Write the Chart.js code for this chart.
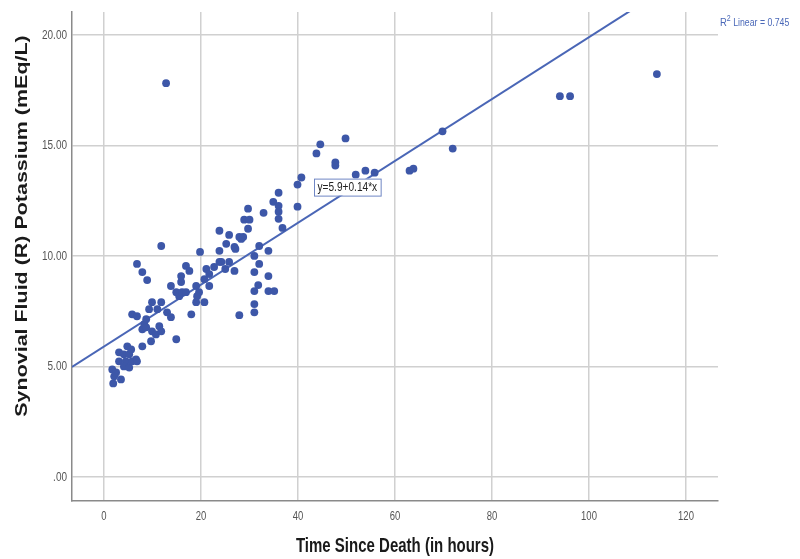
<!DOCTYPE html>
<html>
<head>
<meta charset="utf-8">
<script src="https://cdn.jsdelivr.net/npm/chart.js@4.4.1/dist/chart.umd.min.js"></script>
<style>
  html, body { margin: 0; padding: 0; background: #fff; }
  #wrap { width: 800px; height: 559px; }
</style>
</head>
<body>
<div id="wrap"><canvas id="scatterChart" width="800" height="559"></canvas></div>
<script>
// hours since death
const timeHours = [
  1.9, 3.5, 2.1, 1.7, 2.5, 3.1, 3.1, 4.1, 4.5, 4.1, 4.8, 5.2, 5.2, 5.6, 5.8, 6.6, 6.8,
  5.8, 6.8, 7.9, 8.3, 8.7, 7.9, 6.8, 7.9, 8.9,
  8.7, 9.3, 9.7, 9.9, 9.9, 10.7, 11.0, 11.4, 11.8, 11.8, 11.8, 13.0, 13.8, 13.8, 14.9,
  14.9, 15.5, 15.9, 16.1, 16.9, 18.0, 15.9, 16.9, 17.6, 19.0, 19.6, 19.0, 20.7, 19.2,
  19.8, 20.7,
  21.1, 21.7, 21.7, 22.7, 23.8, 23.8, 23.8, 24.2, 25.0, 25.2, 25.8, 25.8, 26.9, 26.9,
  28.3, 28.9, 30.0, 29.7, 29.7, 27.9, 28.7, 27.1, 27.9, 31.0, 32.0, 31.0, 33.9, 31.0,
  33.9, 31.8, 35.1, 31.0, 31.0, 33.9, 32.0,
  32.9, 34.9, 36.0, 36.0, 36.0, 36.0, 36.8, 39.9, 40.7, 39.9,
  43.8, 44.6, 47.7, 47.7, 49.8, 51.9, 53.9, 55.8, 63.0, 63.8, 69.8, 71.9,
  94.0, 96.1, 114.0, 12.8
];
// synovial potassium, mEq/L
const potassium = [
  4.23, 4.41, 4.55, 4.86, 4.73, 5.23, 5.64, 5.55, 5.23, 5.00, 5.91, 5.55, 4.95, 5.77, 5.23, 5.32, 5.23,
  7.36, 7.27, 6.68, 6.91, 7.14, 5.91, 9.64, 9.27, 8.91,
  6.77, 7.59, 6.14, 7.91, 6.59, 6.45, 7.59, 6.82, 7.91, 6.59, 10.45, 7.45, 7.23, 8.64, 8.36,
  6.23, 8.18, 8.82, 8.36, 8.36, 7.36, 9.09, 9.55, 9.32, 8.64, 8.36, 7.91, 7.91, 8.18,
  10.18, 8.95,
  9.41, 9.18, 8.64, 9.50, 9.73, 10.23, 11.14, 9.73, 9.41, 10.55, 10.95, 9.73, 10.41, 9.32,
  10.77, 11.64, 11.64, 11.23, 12.14, 10.86, 10.86, 10.32, 7.32, 10.00, 9.64, 9.27, 9.09, 8.41,
  8.41, 8.68, 8.41, 7.82, 7.45, 10.23, 10.45,
  11.95, 12.45, 12.86, 12.27, 12.00, 11.68, 11.27, 13.23, 13.55, 12.23,
  14.64, 15.05, 14.23, 14.09, 15.32, 13.68, 13.86, 13.77, 13.86, 13.95, 15.64, 14.86,
  17.23, 17.23, 18.23, 17.82
];

const xTicks = [0, 20, 40, 60, 80, 100, 120];
const xTickLabels = ['0', '20', '40', '60', '80', '100', '120'];
const yTicks = [0, 5, 10, 15, 20];
const yTickLabels = ['.00', '5.00', '10.00', '15.00', '20.00'];

const xTitle = 'Time Since Death (in hours)';
const yTitle = 'Synovial Fluid (R) Potassium (mEq/L)';

// fit shown on the chart: y = 5.9 + 0.14*x, drawn between these x values
const fitIntercept = 5.9;
const fitSlope = 0.14;
const fitRange = [-6.6, 112];
const fitLabel = 'y=5.9+0.14*x';
const r2Text = '0.745';

const blue = '#3d57a8';
const gridColor = '#d0d0d0';
const axisColor = '#8a8a8a';
const sans = 'Arial, "Liberation Sans", sans-serif';
// the source picture is stretched vertically, so its text is too
const stretch = 1.35;

const points = timeHours.map((t, i) => ({ x: t, y: potassium[i] }));
const fitLine = fitRange.map(x => ({ x: x, y: fitIntercept + fitSlope * x }));

function drawText(ctx, text, x, y, font, align, sx, sy, angle) {
  ctx.save();
  ctx.translate(x, y);
  if (angle) ctx.rotate(angle);
  ctx.scale(sx, sy);
  ctx.font = font;
  ctx.textAlign = align;
  ctx.textBaseline = 'middle';
  ctx.fillText(text, 0, 0);
  ctx.restore();
}

const textLayer = {
  id: 'textLayer',
  afterDraw(chart) {
    const { ctx, scales } = chart;
    ctx.save();
    ctx.fillStyle = '#555';
    xTicks.forEach((v, i) => {
      drawText(ctx, xTickLabels[i], scales.x.getPixelForValue(v), 516, '9.5px ' + sans, 'center', 1, stretch);
    });
    yTicks.forEach((v, i) => {
      drawText(ctx, yTickLabels[i], 67, scales.y.getPixelForValue(v), '10px ' + sans, 'right', 1, stretch);
    });
    ctx.fillStyle = '#1a1a1a';
    drawText(ctx, xTitle, 395, 547, 'bold 15px ' + sans, 'center', 1, 1.3);
    drawText(ctx, yTitle, 22, 226, 'bold 16.5px ' + sans, 'center', 1.3, 1, -Math.PI / 2);

    // equation box
    ctx.font = '11px ' + sans;
    const left = scales.x.getPixelForValue(43.3);
    const top = scales.y.getPixelForValue(13.5);
    const w = ctx.measureText(fitLabel).width * 0.92 + 7;
    ctx.fillStyle = '#fff';
    ctx.fillRect(left, top, w, 17);
    ctx.strokeStyle = '#6f86c4';
    ctx.lineWidth = 1;
    ctx.strokeRect(left + 0.5, top + 0.5, w, 17);
    ctx.fillStyle = '#222';
    drawText(ctx, fitLabel, left + 3.5, top + 9, '11px ' + sans, 'left', 0.92, 1.15);

    // R squared note, outside the plot on the right
    ctx.fillStyle = '#4a68b8';
    let x = 720;
    const y = 23;
    drawText(ctx, 'R', x, y, '9.5px ' + sans, 'left', 1, 1.2);
    ctx.font = '9.5px ' + sans;
    x += ctx.measureText('R').width;
    drawText(ctx, '2', x, y - 4, '7px ' + sans, 'left', 1, 1.2);
    ctx.font = '7px ' + sans;
    x += ctx.measureText('2').width;
    drawText(ctx, ' Linear = ' + r2Text, x, y, '9.5px ' + sans, 'left', 0.92, 1.2);
    ctx.restore();
  }
};

new Chart(document.getElementById('scatterChart').getContext('2d'), {
  type: 'scatter',
  data: {
    datasets: [
      {
        label: 'Fit',
        type: 'line',
        data: fitLine,
        borderColor: '#4a66b6',
        borderWidth: 2,
        pointRadius: 0,
        fill: false,
        order: 2
      },
      {
        label: 'Observed',
        data: points,
        backgroundColor: blue,
        borderColor: blue,
        pointRadius: 3.9,
        pointBorderWidth: 0,
        order: 1
      }
    ]
  },
  options: {
    responsive: false,
    animation: false,
    layout: { padding: { top: 12, right: 82, left: 0, bottom: 0 } },
    plugins: { legend: { display: false }, tooltip: { enabled: false } },
    scales: {
      x: {
        type: 'linear',
        min: -6.6,
        max: 126.6,
        afterBuildTicks: axis => { axis.ticks = xTicks.map(v => ({ value: v })); },
        afterFit: axis => { axis.height = 58; },
        grid: { color: gridColor, lineWidth: 1.5, drawTicks: false },
        border: { color: axisColor, width: 1.5 },
        ticks: { display: false },
        title: { display: false }
      },
      y: {
        type: 'linear',
        min: -1.09,
        max: 21.04,
        afterBuildTicks: axis => { axis.ticks = yTicks.map(v => ({ value: v })); },
        afterFit: axis => { axis.width = 72; },
        grid: { color: gridColor, lineWidth: 1.5, drawTicks: false },
        border: { color: axisColor, width: 1.5 },
        ticks: { display: false },
        title: { display: false }
      }
    }
  },
  plugins: [textLayer]
});
</script>
</body>
</html>
